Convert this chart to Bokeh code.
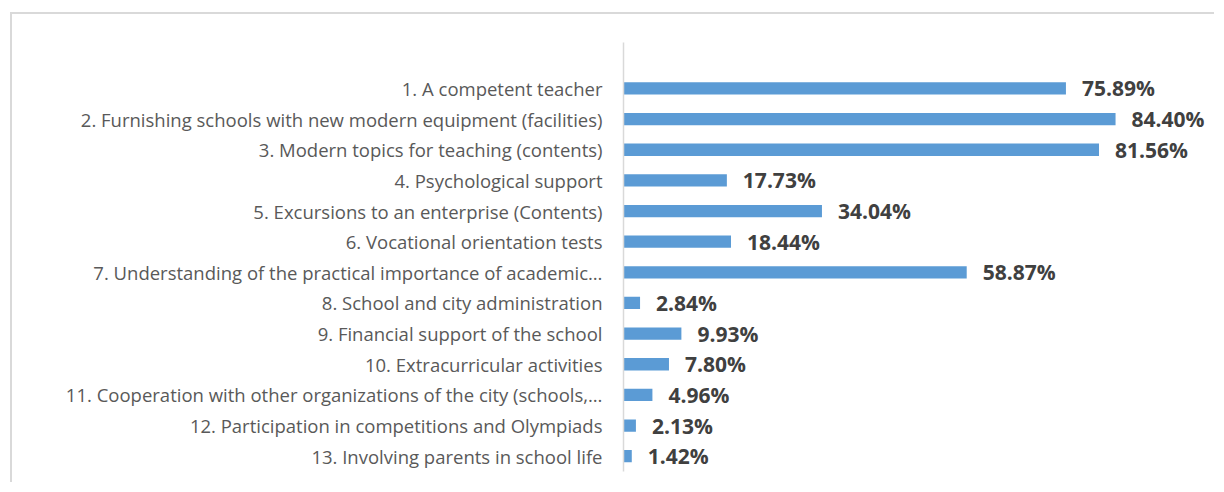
from bokeh.plotting import figure
from bokeh.models import ColumnDataSource, FixedTicker, Range1d
from bokeh.core.properties import value
from bokeh.embed import file_html
from bokeh.resources import INLINE

categories = [
    "1. A competent teacher",
    "2. Furnishing schools with new modern equipment (facilities)",
    "3. Modern topics for teaching (contents)",
    "4. Psychological support",
    "5. Excursions to an enterprise (Contents)",
    "6. Vocational orientation tests",
    "7. Understanding of the practical importance of academic…",
    "8. School and city administration",
    "9. Financial support of the school",
    "10. Extracurricular activities",
    "11. Cooperation with other organizations of the city (schools,…",
    "12. Participation in competitions and Olympiads",
    "13. Involving parents in school life",
]
percent = [75.89, 84.40, 81.56, 17.73, 34.04, 18.44, 58.87, 2.84, 9.93, 7.80, 4.96, 2.13, 1.42]

n = len(categories)
ypos = [n - i for i in range(n)]
labels = ["%.2f%%" % v for v in percent]

src = ColumnDataSource(dict(y=ypos, v=percent, lab=labels, cat=categories))

p = figure(width=1204, height=470, output_backend="svg", toolbar_location=None,
           x_range=Range1d(0, 100), y_range=Range1d(0.5, n + 1.5),
           min_border_left=611, min_border_right=10, min_border_top=28, min_border_bottom=13)
p.styles = {"border-left": "2px solid #d9d9d9", "border-top": "2px solid #d9d9d9",
            "margin-left": "10px", "margin-top": "12px"}
p.outline_line_color = None
p.xgrid.visible = False
p.ygrid.visible = False
p.xaxis.visible = False

p.hbar(y="y", right="v", left=0, height=0.4, source=src, fill_color="#5B9BD5", line_color=None)
p.text(x="v", y="y", text="lab", source=src, x_offset=16, text_baseline="middle", text_align="left",
       text_font=value("Open Sans"), text_font_style="bold", text_font_size="21px", text_color="#404040")

ax = p.yaxis[0]
ax.ticker = FixedTicker(ticks=ypos)
ax.major_label_overrides = {y: c for y, c in zip(ypos, categories)}
ax.major_tick_line_color = None
ax.minor_tick_line_color = None
ax.axis_line_color = "#d9d9d9"
ax.axis_line_width = 1.5
ax.major_label_standoff = 15
ax.major_label_text_font = "Open Sans"
ax.major_label_text_font_size = "18.5px"
ax.major_label_text_color = "#595959"

open("out.html", "w").write(file_html(p, INLINE))
